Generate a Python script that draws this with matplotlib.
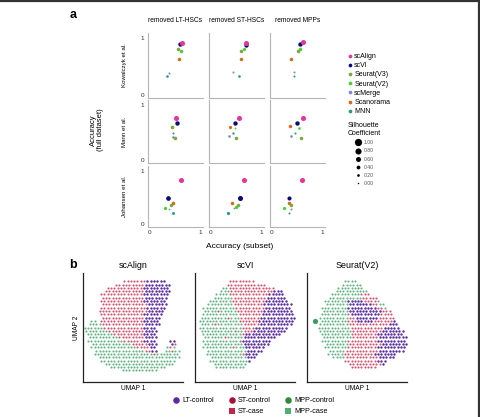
import matplotlib.pyplot as plt
from matplotlib.lines import Line2D

plt.rcParams['font.family'] = ['Liberation Sans', 'DejaVu Sans']

W, H = 481, 417
fig = plt.figure(figsize=(W / 100, H / 100), dpi=100)


def box(x0, y0, x1, y1):
    # pixel box (top-left origin) -> figure fraction rect
    return [x0 / W, 1 - y1 / H, (x1 - x0) / W, (y1 - y0) / H]


# ---------------- panel a data ----------------
methods = ['scAlign', 'scVI', 'Seurat(V3)', 'Seurat(V2)', 'scMerge', 'Scanorama', 'MNN']
method_colors = ['#e0399a', '#0b0b78', '#7aa83a', '#45d22f', '#8a87c6', '#d46a1e', '#2b9b7e']
datasets = ['Kowalczyk et al.', 'Mann et al.', 'Johansen et al.']
removed = ['removed LT-HSCs', 'removed ST-HSCs', 'removed MPPs']

# accuracy on subset (x), accuracy on full dataset (y), silhouette (size)
kow_x = [[0.63, 0.60, 0.55, 0.61, 0.37, 0.57, 0.34],
         [0.69, 0.69, 0.59, 0.65, 0.44, 0.60, 0.55],
         [0.63, 0.56, 0.51, 0.55, 0.43, 0.37, 0.44]]
kow_y = [[0.92, 0.89, 0.81, 0.77, 0.39, 0.64, 0.33],
         [0.92, 0.88, 0.78, 0.81, 0.40, 0.64, 0.33],
         [0.93, 0.89, 0.78, 0.81, 0.40, 0.64, 0.33]]
kow_s = [[0.62, 0.50, 0.35, 0.35, 0.10, 0.35, 0.20],
         [0.62, 0.50, 0.35, 0.30, 0.10, 0.35, 0.20],
         [0.62, 0.50, 0.35, 0.35, 0.10, 0.35, 0.10]]

mann_x = [[0.51, 0.53, 0.49, 0.44, 0.45, 0.43, 0.46],
          [0.55, 0.47, 0.49, 0.47, 0.35, 0.37, 0.44],
          [0.63, 0.50, 0.58, 0.54, 0.38, 0.35, 0.45]]
mann_y = [[0.76, 0.67, 0.40, 0.60, 0.42, 0.61, 0.50],
          [0.76, 0.67, 0.40, 0.58, 0.43, 0.61, 0.50],
          [0.76, 0.67, 0.40, 0.59, 0.43, 0.62, 0.50]]
mann_s = [[0.62, 0.50, 0.35, 0.20, 0.20, 0.35, 0.10],
          [0.62, 0.50, 0.35, 0.05, 0.20, 0.30, 0.15],
          [0.62, 0.50, 0.35, 0.20, 0.20, 0.35, 0.10]]

joh_x = [[0.61, 0.35, 0.42, 0.29, 0.37, 0.45, 0.45],
         [0.65, 0.57, 0.54, 0.50, 0.46, 0.41, 0.34],
         [0.61, 0.34, 0.37, 0.24, 0.37, 0.34, 0.33]]
joh_y = [[0.82, 0.49, 0.36, 0.31, 0.29, 0.39, 0.21],
         [0.82, 0.49, 0.36, 0.33, 0.30, 0.39, 0.21],
         [0.82, 0.49, 0.36, 0.31, 0.29, 0.39, 0.21]]
joh_s = [[0.62, 0.55, 0.35, 0.30, 0.05, 0.35, 0.25],
         [0.62, 0.62, 0.35, 0.30, 0.05, 0.35, 0.30],
         [0.62, 0.45, 0.35, 0.30, 0.10, 0.35, 0.10]]

all_x = [kow_x, mann_x, joh_x]
all_y = [kow_y, mann_y, joh_y]
all_s = [kow_s, mann_s, joh_s]

size_levels = [1.00, 0.80, 0.60, 0.40, 0.20, 0.00]


def diam_pt(s):
    return (1.5 + 5.8 * s) * 0.72


col_x = [(148, 203), (209, 264), (270, 325)]
row_y = [(33, 98), (100, 163), (166, 227)]

for r in range(3):
    for c in range(3):
        ax = fig.add_axes(box(col_x[c][0], row_y[r][0], col_x[c][1], row_y[r][1]))
        xs, ys, ss = all_x[r][c], all_y[r][c], all_s[r][c]
        for k in reversed(range(len(methods))):
            ax.scatter(xs[k], ys[k], s=diam_pt(ss[k]) ** 2, color=method_colors[k],
                       linewidths=0, zorder=3)
        ax.set_xlim(-0.04, 1.06)
        ax.set_ylim(-0.05, 1.09)
        for sp in ['top', 'right']:
            ax.spines[sp].set_visible(False)
        for sp in ['left', 'bottom']:
            ax.spines[sp].set_color('#b5b5b5')
            ax.spines[sp].set_linewidth(0.8)
        ax.tick_params(length=0, labelsize=4.6, colors='#333333', pad=2.5)
        ax.set_xticks([0, 1])
        ax.set_yticks([0, 1])
        if c > 0:
            ax.set_yticklabels([])
        if r < 2:
            ax.set_xticklabels([])
        if r == 0:
            fig.text((col_x[c][0] + col_x[c][1]) / 2 / W, 1 - 21 / H, removed[c],
                     ha='center', va='center', fontsize=4.8)
        if c == 0:
            fig.text(125 / W, 1 - (row_y[r][0] + row_y[r][1]) / 2 / H, datasets[r],
                     rotation=90, ha='center', va='center', fontsize=4.4)

fig.text(97 / W, 1 - 130 / H, 'Accuracy\n(full dataset)', rotation=90,
         ha='center', va='center', fontsize=5.5, linespacing=1.1)
fig.text(240 / W, 1 - 247 / H, 'Accuracy (subset)', ha='center', va='center', fontsize=6.0)

h_methods = [Line2D([], [], ls='', marker='o', markersize=2.7, color=cc, markeredgewidth=0)
             for cc in method_colors]
leg1 = fig.legend(h_methods, methods, loc='upper left', bbox_to_anchor=(348 / W, 1 - 53 / H),
                  frameon=False, fontsize=5.0, handlelength=0.5, handletextpad=0.4,
                  labelspacing=0.32, borderpad=0, borderaxespad=0)

h_sizes = [Line2D([], [], ls='', marker='o', markersize=diam_pt(v), color='black',
                  markeredgewidth=0) for v in size_levels]
leg2 = fig.legend(h_sizes, ['%.2f' % v for v in size_levels], loc='upper left',
                  bbox_to_anchor=(348 / W, 1 - 122 / H), frameon=False, fontsize=3.7,
                  title='Silhouette\nCoefficient', title_fontsize=5.0, handlelength=1.0,
                  handletextpad=0.6, labelspacing=0.62, borderpad=0, borderaxespad=0)
for t in leg2.get_texts():
    t.set_color('#555555')

fig.text(73 / W, 1 - 15 / H, 'a', fontweight='bold', fontsize=9, ha='center', va='center')
fig.text(73 / W, 1 - 265 / H, 'b', fontweight='bold', fontsize=9, ha='center', va='center')

# ---------------- panel b data ----------------
# UMAP embeddings read off the picture as a coarse grid of dominant populations
# L = LT-control, S = ST, M = MPP, G = lone MPP-control dot
umap_titles = ['scAlign', 'scVI', 'Seurat(V2)']

scalign_grid = [
    "..............................",
    "..............................",
    "............SSSSSSSLLLLLL.....",
    ".........SSSSSSSSSLLLLLLLL....",
    ".......SSSSSSSSSSSLLLLLLLL....",
    "......SSSSSSSSSSSSLLLLLLLL....",
    ".....SSSSSSSSSSSSSLLLLLLLL....",
    ".....SSSSSSSSSSSSSLLLLLLL.....",
    ".....SSSSSSSSSSSSSLLLLLLL.....",
    ".....SSSSSSSSSSSSSSLLLLLL.....",
    ".....SSSSSSSSSSSSSSLLLLLL.....",
    "....SSSSSSSSSSSSSSSLLLLL......",
    ".....SSSSSSSSSSSSSLLLLLL......",
    ".....SSSSSSSSSSSSSLLLLL.......",
    "..MM.SSSSSSSSSSSSSLLLLL.......",
    ".MMMMSSSSSSSSSSSSSLLLLL.......",
    "MMMMMMSSSSSSSSSSSSLLLL........",
    "MMMMMMMSSSSSSSSSSSLLLL........",
    ".MMMMMMMMSSSSSSSSSLLLL........",
    ".MMMMMMMMMSSSSSSSSLLLL........",
    ".MMMMMMMMMMMSSSSSSLLLL....LL..",
    "..MMMMMMMMMMMMSSSSSLLL....LS..",
    "..MMMMMMMMMMMMMMSSSSLL...MSM..",
    "...MMMMMMMMMMMMMMMSSLL..MMSMM.",
    "...MMMMMMMMMMMMMMMMMMSMMMMMMM.",
    "....MMMMMMMMMMMMMMMMMMMMMMMMM.",
    ".....MMMMMMMMMMMMMMMMMMMMMMM..",
    "......MMMMMMMMMMMMMMMMMMMMM...",
    "........MMMMMMMMMMMMMMMMM.....",
    "...........MMMMMMMMMMM........",
    "..............................",
    "..............................",
    "..............................",
]

scvi_grid = [
    "..............................",
    "..............................",
    "..........SSSSSSSS............",
    ".........SSSSSSSSSSSS.........",
    "........MMSSSSSSSSSSSSSS......",
    ".......MMMSSSSSSSSSSSSSLLL....",
    "......MMMMSSSSSSSSSSSSLLLLL...",
    ".....MMMMMMSSSSSSSSSSLLLLLL...",
    "....MMMMMMMSSSSSSSSSSLLLLLLL..",
    "...MMMMMMMMSSSSSSSSSLLLLLLLLL.",
    "..MMMMMMMMMMSSSSSSSSSLLLLLLLL.",
    "..MMMMSMMMMMSSSSSSSSLLLLLLLLL.",
    "..MMMMMMMMMMMSSSSSSSLLLLLLLLLL",
    ".MMMMMMMMSMMMSSSSSSLLLLLLLLLLL",
    ".MMMMMMMMMMMMSSSSSSLLLLLLLLLLL",
    ".MMMMSMMMMMMMMSSSSSLLLLLLLLLL.",
    ".MMMMMMMMMMMMMSSSSLLLLLLLLLL..",
    ".MMMMMMMMMMSMMSSSLLLLLLLLLL...",
    "..MMMMMMMMMMMMSLLLLLLLLLLL....",
    "..MMMMMMSMMMMMLLLLLLLLLL......",
    "..MMMMMMMMMMMSLLLLLLLLL.......",
    "..MMMMMMMMMMMMLLLLLLLL........",
    "..MMMMMMMMMSMMMLLLLLL.........",
    "...MMMMMMMMMMMMLLLLL..........",
    "...MMMMMMMMMMMSLLLL...........",
    "....MMMMMMMMMMMLLL............",
    "....MMMMMMMMMMMML.............",
    ".....MMMMMMMMMM...............",
    "......MMMMMMMMM...............",
    "..............................",
    "..............................",
    "..............................",
    "..............................",
]

seurat_grid = [
    "..............................",
    "..............................",
    "...........MMMM...............",
    "..........MMMMMM..............",
    ".........MMMMMMMM.............",
    "........MMMMMMMMMM............",
    ".......MMMMMMMMMSSS...........",
    "......MMMMMMMMMMSSSSS.........",
    ".....MMMMMMMLLLLLSSSSM........",
    ".....MMMMMMMLLLLLLLSSMM.......",
    "....MMMMMMMMLLLLLLLLLSSM......",
    "....MMMMMMMMLLLLLLLLLLSSS.....",
    "....MMMMMMMMSLLLLLLLLLSSSS....",
    "...MMMMMMMMMSSLLLLLLLSSSSS....",
    "..G.MMMMMMMMSSSLLLLLSSSSSSL...",
    "...MMMMMMMMMSSSSSSSSSSSSLLL...",
    "...MMMMMMMMMMSSSSSSSSSSLLLLL..",
    "...MMMMMMMMMMSSSSSSSSSLLLLLLL.",
    "....MMMMMMMMMSSSSSSSSLLLLLLLL.",
    "....MMMMMMMMMSSSSSSSSLLLLLLLLL",
    "....MMMMMMMMSSSSSSSSSLLLLLLLLL",
    ".....MMMMMMMSSSSSSSSSSLLLLLLLL",
    ".....MMMMMMMSSSSSSSSSLLLLLLLLL",
    "......MMMMMSSSSSSSSSSLLLLLLLL.",
    "......MMMMMSSSSSSSSSLLLLLLL...",
    ".......MMMMSSSSSSSSSSLLLLL....",
    "...........SSSSSSSSSSLLL......",
    "............SSSSSSSSSSL.......",
    ".............SSSSSSSS.........",
    "..............................",
    "..............................",
    "..............................",
    "..............................",
]

umap_grids = [scalign_grid, scvi_grid, seurat_grid]
pop_colors = {'M': '#66b388', 'S': '#d6526f', 'L': '#5a2c9c', 'G': '#3f9a5f'}
pop_sizes = {'M': 2.3, 'S': 2.3, 'L': 3.0, 'G': 14}

umap_x = [(83, 183), (195, 295), (307, 407)]
for p in range(3):
    ax = fig.add_axes(box(umap_x[p][0], 273, umap_x[p][1], 382))
    grid = umap_grids[p]
    for key in ['M', 'G', 'S', 'L']:
        # odd rows sit half a cell to the right (hex packing)
        pts = [(j + 0.5 * (i % 2), i) for i, row in enumerate(grid)
               for j, ch in enumerate(row) if ch == key]
        if pts:
            ax.scatter([q[0] for q in pts], [q[1] for q in pts], s=pop_sizes[key],
                       color=pop_colors[key], linewidths=0)
    ax.set_xlim(-0.5, 29.8)
    ax.set_ylim(32.5, -0.5)
    ax.set_xticks([])
    ax.set_yticks([])
    for sp in ['top', 'right']:
        ax.spines[sp].set_visible(False)
    for sp in ['left', 'bottom']:
        ax.spines[sp].set_color('#222222')
        ax.spines[sp].set_linewidth(0.9)
    cx = (umap_x[p][0] + umap_x[p][1]) / 2
    fig.text(cx / W, 1 - 266 / H, umap_titles[p], ha='center', va='center', fontsize=6.4)
    fig.text(cx / W, 1 - 388 / H, 'UMAP 1', ha='center', va='center', fontsize=4.8)
    if p == 0:
        fig.text(76 / W, 1 - 328 / H, 'UMAP 2', rotation=90, ha='center', va='center',
                 fontsize=4.8)

pop_labels = ['LT-control', '', 'ST-control', 'ST-case', 'MPP-control', 'MPP-case']
pop_handles = [
    Line2D([], [], ls='', marker='o', markersize=4.7, color='#5b2ca0', markeredgewidth=0),
    Line2D([], [], ls='', marker='', color='none'),
    Line2D([], [], ls='', marker='o', markersize=4.7, color='#a8113d', markeredgewidth=0),
    Line2D([], [], ls='', marker='s', markersize=4.5, color='#c2264b', markeredgewidth=0),
    Line2D([], [], ls='', marker='o', markersize=4.7, color='#2e8a3a', markeredgewidth=0),
    Line2D([], [], ls='', marker='s', markersize=4.5, color='#4fae72', markeredgewidth=0),
]
fig.legend(pop_handles, pop_labels, ncol=3, loc='upper left',
           bbox_to_anchor=(173 / W, 1 - 397 / H), frameon=False, fontsize=5.2,
           handlelength=0.8, handletextpad=0.43, columnspacing=2.1, labelspacing=0.6,
           borderpad=0, borderaxespad=0)

# frame lines on top and right edge
fig.add_artist(Line2D([0, 1], [1 - 0.8 / H, 1 - 0.8 / H], color='#333333', lw=1.6,
                      transform=fig.transFigure))
fig.add_artist(Line2D([479 / W, 479 / W], [0, 1], color='#333333', lw=1.6,
                      transform=fig.transFigure))

fig.savefig('out.png', dpi=100)
